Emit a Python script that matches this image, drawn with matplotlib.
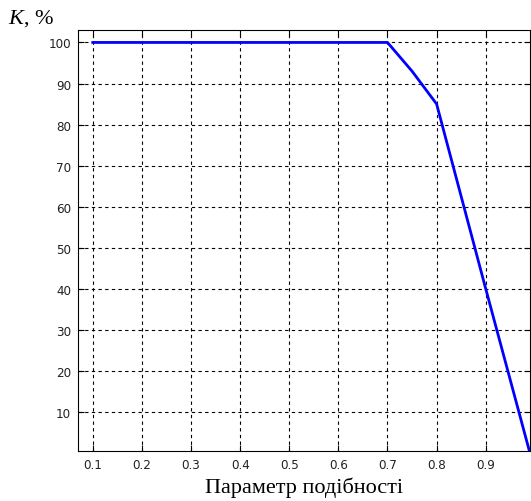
import matplotlib
matplotlib.use("Agg")
import matplotlib.pyplot as plt
from matplotlib import font_manager

x_vals = [0.1, 0.2, 0.3, 0.4, 0.5, 0.6, 0.7, 0.75, 0.8, 0.9, 0.99]
k_vals = [100, 100, 100, 100, 100, 100, 100, 93, 85, 40, 0]
xticks = [0.1, 0.2, 0.3, 0.4, 0.5, 0.6, 0.7, 0.8, 0.9]
yticks = [10, 20, 30, 40, 50, 60, 70, 80, 90, 100]

plt.rcParams["mathtext.fontset"] = "custom"
plt.rcParams["mathtext.it"] = "Liberation Serif:italic"
plt.rcParams["mathtext.rm"] = "Liberation Serif"

fonts = font_manager.fontManager.ttflist
names = {f.name for f in fonts}
cond = [f for f in fonts if f.name == "DejaVu Sans" and f.stretch == "condensed"]
if "Liberation Sans Narrow" in names:
    tick_kw = dict(fontfamily="Liberation Sans Narrow")
elif cond:
    tick_kw = dict(fontfamily="DejaVu Sans", fontstretch="condensed")
else:
    tick_kw = dict(fontfamily="DejaVu Sans")
serif = "Liberation Serif"

fig = plt.figure(figsize=(5.31, 5.02), dpi=100)
ax = fig.add_axes([0.147, 0.0996, 0.851, 0.8384])
ax.plot(x_vals, k_vals, color="#0000ff", lw=2.0, solid_joinstyle="round")
ax.set_xlim(0.07, 0.99)
ax.set_ylim(0.5, 103)
ax.set_xticks(xticks)
ax.set_yticks(yticks)
ax.set_xticklabels([f"{t:g}" for t in xticks], fontsize=9.5, color="#222222", **tick_kw)
ax.set_yticklabels([str(t) for t in yticks], fontsize=9.5, color="#222222", **tick_kw)
ax.tick_params(direction="in", top=True, right=True, length=4, width=0.8, pad=5)
ax.grid(True, color="black", linestyle=(0, (3, 3)), linewidth=0.8)
for s in ax.spines.values():
    s.set_linewidth(0.8)
ax.set_xlabel("Параметр подібності", fontfamily=serif, fontsize=16, labelpad=4)
fig.text(0.015, 0.963, r"$K$, %", fontfamily=serif, fontsize=16, va="center")
fig.savefig("out.png", dpi=100)
